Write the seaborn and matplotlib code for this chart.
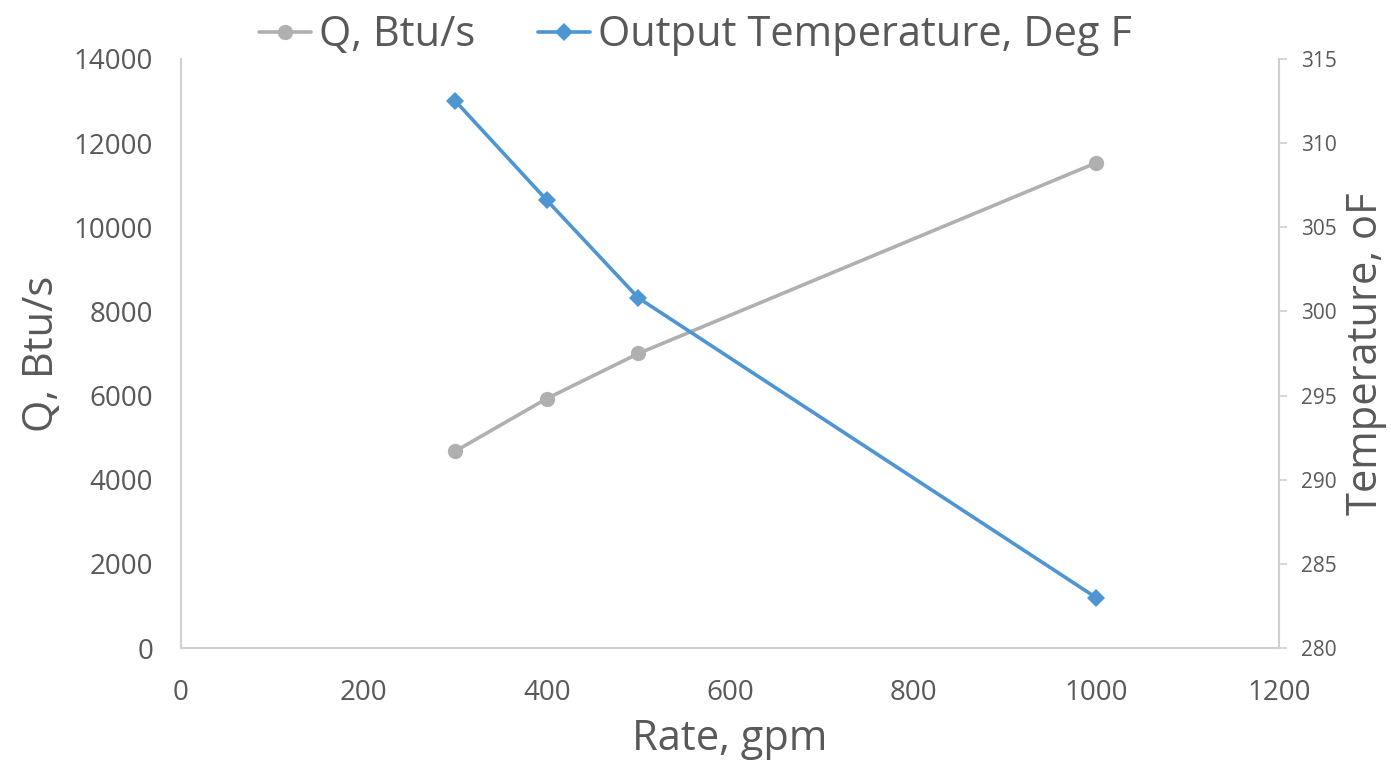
import matplotlib
matplotlib.use("Agg")
import matplotlib.pyplot as plt
import seaborn as sns
import pandas as pd

# Data
rate_gpm = [300, 400, 500, 1000]
q_btu_s = [4680, 5930, 7000, 11530]
temp_deg_f = [312.5, 306.6, 300.8, 283.0]

x_ticks = [0, 200, 400, 600, 800, 1000, 1200]
q_ticks = [0, 2000, 4000, 6000, 8000, 10000, 12000, 14000]
t_ticks = [280, 285, 290, 295, 300, 305, 310, 315]

q_label = "Q, Btu/s"
t_label = "Output Temperature, Deg F"

df = pd.DataFrame({"rate": rate_gpm, "q": q_btu_s, "t": temp_deg_f})

sns.set_theme(style="white")
plt.rcParams["font.family"] = ["Open Sans", "DejaVu Sans"]

TXT = "#595959"
SPINE = "#D0D0D0"
GRAY = "#B0B0B0"
BLUE = "#4E95D3"

fig = plt.figure(figsize=(13.91, 7.73), dpi=100)
ax = fig.add_axes([0.130, 0.1617, 0.7895, 0.762])
ax2 = ax.twinx()

sns.lineplot(data=df, x="rate", y="q", ax=ax, color=GRAY, linewidth=2.6,
             marker="o", markersize=11, markeredgewidth=0, label=q_label,
             legend=False)
sns.lineplot(data=df, x="rate", y="t", ax=ax2, color=BLUE, linewidth=2.6,
             marker="D", markersize=9.5, markeredgewidth=0, label=t_label,
             legend=False)

ax.set_xlim(0, 1200)
ax.set_ylim(0, 14000)
ax2.set_ylim(280, 315)
ax.set_xticks(x_ticks)
ax.set_yticks(q_ticks)
ax2.set_yticks(t_ticks)

ax.tick_params(axis="y", length=0, labelsize=20, colors=TXT, pad=20)
ax.tick_params(axis="x", length=0, labelsize=20, colors=TXT, pad=22)
ax2.tick_params(axis="y", length=6, width=1.2, color=SPINE, labelsize=15,
                labelcolor=TXT, pad=10, direction="out")

for a in (ax, ax2):
    a.spines["top"].set_visible(False)
    for s in ("left", "right", "bottom"):
        a.spines[s].set_color(SPINE)
        a.spines[s].set_linewidth(1.5)
ax.spines["right"].set_visible(False)
ax2.spines["left"].set_visible(False)
ax2.spines["bottom"].set_visible(False)

ax.set_xlabel("Rate, gpm", fontsize=30, color=TXT, labelpad=8)
ax.set_ylabel("Q, Btu/s", fontsize=30, color=TXT, labelpad=8)
ax2.set_ylabel("Temperature, oF", fontsize=30, color=TXT, labelpad=6)

h1, l1 = ax.get_legend_handles_labels()
h2, l2 = ax2.get_legend_handles_labels()
fig.legend(h1 + h2, l1 + l2, loc="upper center", bbox_to_anchor=(0.5, 1.03),
           ncol=2, frameon=False, fontsize=30, labelcolor=TXT,
           handlelength=1.25, handletextpad=0.2, columnspacing=1.5)

fig.savefig("out.png", dpi=100, facecolor="white")
